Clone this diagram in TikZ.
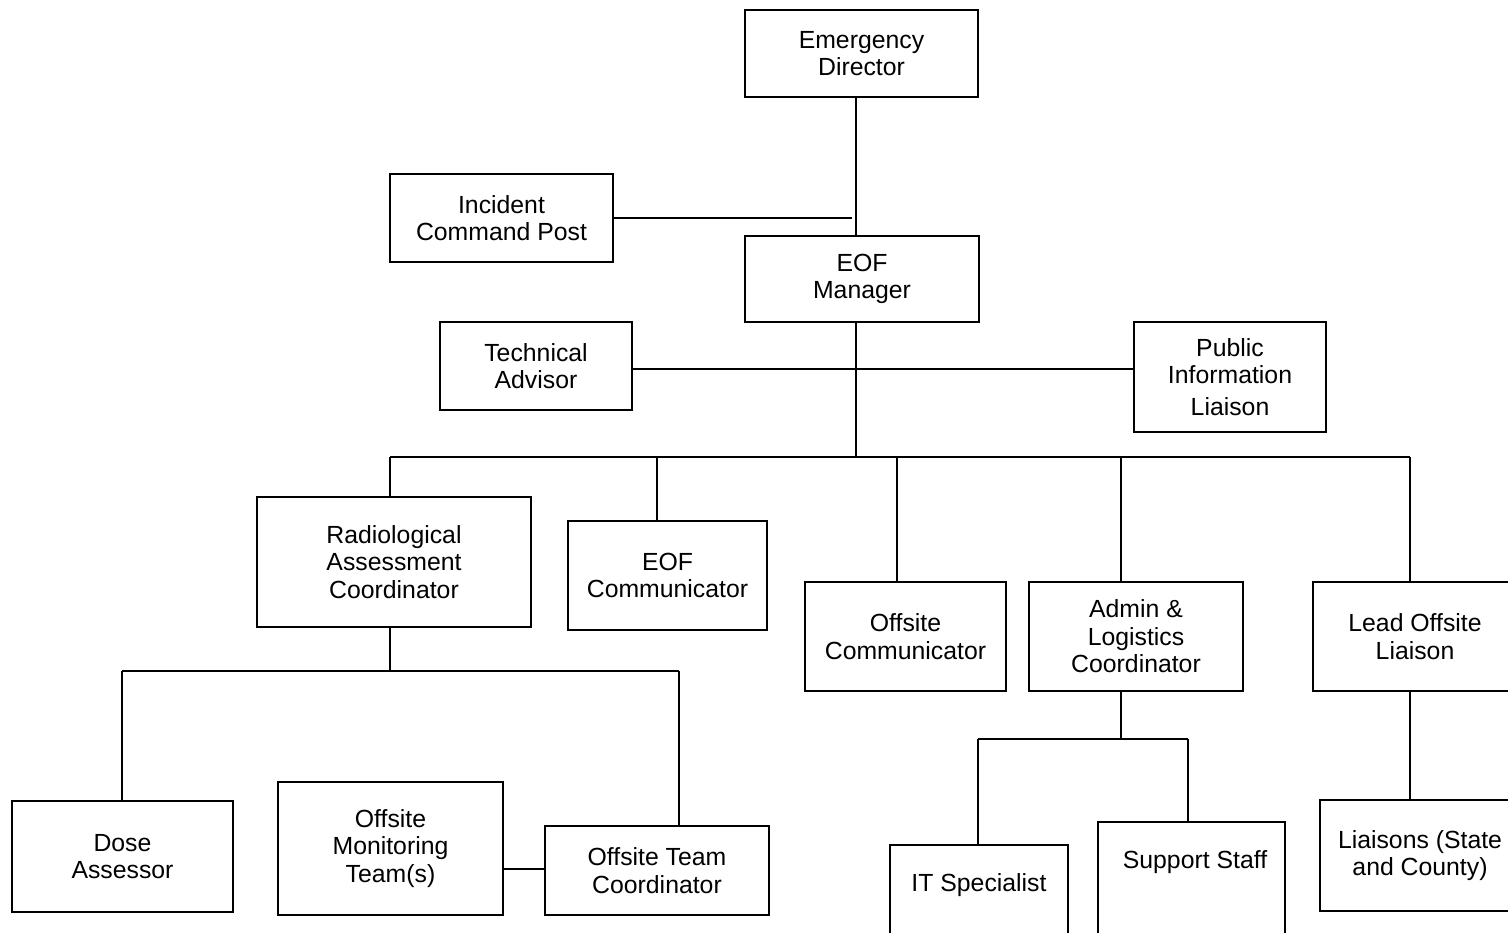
\documentclass[tikz,border=0pt]{standalone}
\usepackage{fontspec}
\setmainfont{Liberation Sans}
\begin{document}
\begin{tikzpicture}[x=0.5pt,y=-0.5pt,
  box/.style={draw, line width=0.7pt, align=center, inner sep=0pt, font=\fontsize{12.4}{13.8}\selectfont},
  txt/.style={align=center, inner sep=0pt, font=\fontsize{12.4}{13.8}\selectfont},
  conn/.style={line width=0.7pt}]
\useasboundingbox (0,0) rectangle (1508,932);
\clip (0,0) rectangle (1508,932);
\newcommand\obox[6]{\node[box, minimum width={(#4-#2)*0.5pt}, minimum height={(#5-#3)*0.5pt}] (#1) at ({(#2+#4)/2},{(#3+#5)/2}) {#6};}
% boxes
\obox{ed}{745}{10}{978}{97}{Emergency\\Director}
\obox{icp}{390}{174}{613}{262}{Incident\\Command Post}
\obox{mgr}{745}{236}{979}{322}{EOF\\Manager}
\obox{ta}{440}{322}{632}{410}{Technical\\Advisor}
\obox{pil}{1134}{322}{1326}{432}{Public\\Information\\[2pt]Liaison}
\obox{rac}{257}{497}{531}{627}{Radiological\\Assessment\\Coordinator}
\obox{ecom}{568}{521}{767}{630}{EOF\\Communicator}
\obox{ocom}{805}{582}{1006}{691}{Offsite\\Communicator}
\obox{adm}{1029}{582}{1243}{691}{Admin \&\\Logistics\\Coordinator}
\obox{lead}{1313}{582}{1517}{691}{Lead Offsite\\Liaison}
\obox{dose}{12}{801}{233}{912}{Dose\\Assessor}
\obox{omt}{278}{782}{503}{915}{Offsite\\Monitoring\\Team(s)}
\obox{otc}{545}{826}{769}{915}{Offsite Team\\Coordinator}
\obox{itbox}{890}{845}{1068}{960}{}
\node[txt] (it) at (979,885) {IT Specialist};
\obox{ssbox}{1098}{822}{1285}{960}{}
\node[txt] (ss) at (1195,862) {Support Staff};
\obox{liai}{1320}{800}{1520}{911}{Liaisons (State\\and County)}
% coordinates
\coordinate (spine) at (856,0);
\coordinate (side) at (856,369);
\coordinate (bus) at (856,457);
\coordinate (b1) at (390,457);
\coordinate (b2) at (657,457);
\coordinate (b3) at (897,457);
\coordinate (b4) at (1121,457);
\coordinate (b5) at (1410,457);
\coordinate (r0) at (390,671);
\coordinate (r1) at (122,671);
\coordinate (r2) at (679,671);
\coordinate (a0) at (1121,739);
\coordinate (a1) at (978,739);
\coordinate (a2) at (1188,739);
\coordinate (om) at (0,869);
% connectors
\draw[conn] (ed.south -| spine) -- (mgr.north -| spine);
\draw[conn] (icp.east) -- ([xshift=-2pt]icp.east -| spine);
\draw[conn] (mgr.south -| spine) -- (bus);
\draw[conn] (ta.east |- side) -- (side) -- (pil.west |- side);
\draw[conn] (b1) -- (b5);
\draw[conn] (b1) -- (rac.north -| b1);
\draw[conn] (b2) -- (ecom.north -| b2);
\draw[conn] (b3) -- (ocom.north -| b3);
\draw[conn] (b4) -- (adm.north -| b4);
\draw[conn] (b5) -- (lead.north -| b5);
\draw[conn] (rac.south -| r0) -- (r0);
\draw[conn] (r1) -- (r2);
\draw[conn] (r1) -- (dose.north -| r1);
\draw[conn] (r2) -- (otc.north -| r2);
\draw[conn] (omt.east |- om) -- (otc.west |- om);
\draw[conn] (adm.south -| a0) -- (a0);
\draw[conn] (a1) -- (a2);
\draw[conn] (a1) -- (itbox.north -| a1);
\draw[conn] (a2) -- (ssbox.north -| a2);
\draw[conn] (lead.south -| b5) -- (liai.north -| b5);
\end{tikzpicture}
\end{document}
